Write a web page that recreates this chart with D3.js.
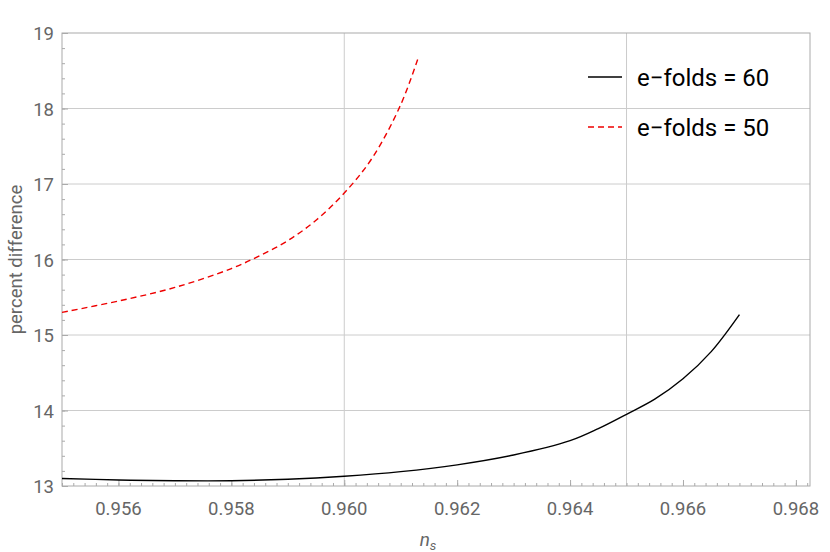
<!DOCTYPE html>
<html><head><meta charset="utf-8">
<script src="https://cdn.jsdelivr.net/npm/d3@7"></script>
<style>body{margin:0;background:#fff}</style>
</head><body>
<svg id="chart" width="830" height="552"></svg>
<script>
// curve samples
var ns60 = [0.955, 0.956, 0.957, 0.958, 0.959, 0.960, 0.961, 0.962, 0.963, 0.964, 0.9645, 0.965, 0.9655, 0.966, 0.9665, 0.967]
var pd60 = [13.10, 13.08, 13.07, 13.07, 13.09, 13.13, 13.19, 13.28, 13.41, 13.60, 13.76, 13.95, 14.15, 14.42, 14.78, 15.27]
var ns50 = [0.955, 0.956, 0.957, 0.958, 0.9585, 0.959, 0.9595, 0.960, 0.9605, 0.961, 0.9613]
var pd50 = [15.30, 15.45, 15.63, 15.88, 16.05, 16.25, 16.52, 16.88, 17.35, 18.05, 18.65]
var xTicks = [0.956, 0.958, 0.960, 0.962, 0.964, 0.966, 0.968]
var yTicks = [13, 14, 15, 16, 17, 18, 19]
var gridX = [0.960, 0.965]
var labels = ["e\u2212folds = 60", "e\u2212folds = 50"]

var m = {left: 62, right: 810, top: 33, bottom: 486}
var svg = d3.select("#chart")
var x = d3.scaleLinear().domain([0.955, 0.96825]).range([m.left, m.right])
var y = d3.scaleLinear().domain([13, 19]).range([m.bottom, m.top])
var gray = "#666"

// grid
svg.selectAll(".gx").data(gridX).enter().append("line")
    .attr("x1", d => x(d)).attr("x2", d => x(d)).attr("y1", m.top).attr("y2", m.bottom)
    .attr("stroke", "#ccc").attr("stroke-width", 1)
svg.selectAll(".gy").data(yTicks.slice(1, -1)).enter().append("line")
    .attr("y1", d => y(d)).attr("y2", d => y(d)).attr("x1", m.left).attr("x2", m.right)
    .attr("stroke", "#ccc").attr("stroke-width", 1)

// frame
svg.append("rect").attr("x", m.left).attr("y", m.top)
    .attr("width", m.right - m.left).attr("height", m.bottom - m.top)
    .attr("fill", "none").attr("stroke", "#aaa")

// axes with minor ticks
var xMinor = d3.range(0, 67).map(i => 0.955 + i * 0.0002).filter(d => d <= 0.96825)
svg.append("g").attr("transform", `translate(0,${m.bottom})`)
    .call(d3.axisTop(x).tickValues(xMinor).tickSize(3).tickFormat(""))
    .call(g => g.select(".domain").remove()).selectAll("line").attr("stroke", "#aaa")
svg.append("g").attr("transform", `translate(0,${m.bottom})`)
    .call(d3.axisTop(x).tickValues(xTicks).tickSize(6).tickFormat(""))
    .call(g => g.select(".domain").remove()).selectAll("line").attr("stroke", "#aaa")
svg.selectAll(".xt").data(xTicks).enter().append("text")
    .attr("x", d => x(d)).attr("y", m.bottom + 29).attr("text-anchor", "middle")
    .attr("font-family", "Roboto, sans-serif").attr("font-size", 18.5).attr("fill", gray)
    .text(d => d.toFixed(3))

var yMinor = d3.range(0, 31).map(i => 13 + i * 0.2)
svg.append("g").attr("transform", `translate(${m.left},0)`)
    .call(d3.axisRight(y).tickValues(yMinor).tickSize(3).tickFormat(""))
    .call(g => g.select(".domain").remove()).selectAll("line").attr("stroke", "#aaa")
svg.append("g").attr("transform", `translate(${m.left},0)`)
    .call(d3.axisRight(y).tickValues(yTicks).tickSize(6).tickFormat(""))
    .call(g => g.select(".domain").remove()).selectAll("line").attr("stroke", "#aaa")
svg.selectAll(".yt").data(yTicks).enter().append("text")
    .attr("x", m.left - 8).attr("y", d => y(d) + 7).attr("text-anchor", "end")
    .attr("font-family", "Roboto, sans-serif").attr("font-size", 18.5).attr("fill", gray)
    .text(d => d)

// axis titles
svg.append("text").attr("transform", `translate(22,${(m.top + m.bottom) / 2}) rotate(-90)`)
    .attr("text-anchor", "middle").attr("font-family", "Roboto, sans-serif")
    .attr("font-size", 18.5).attr("fill", gray).text("percent difference")
var ttl = svg.append("text").attr("x", 428).attr("y", 546).attr("text-anchor", "middle")
    .attr("font-family", "Roboto, sans-serif").attr("font-style", "italic")
    .attr("font-size", 19).attr("fill", gray)
ttl.append("tspan").text("n")
ttl.append("tspan").attr("font-size", 13).attr("dy", 4).text("s")

// curves
var line = d3.line().x(d => x(d[0])).y(d => y(d[1])).curve(d3.curveCatmullRom)
svg.append("path").datum(d3.zip(ns60, pd60)).attr("d", line)
    .attr("fill", "none").attr("stroke", "#000").attr("stroke-width", 1.4)
svg.append("path").datum(d3.zip(ns50, pd50)).attr("d", line)
    .attr("fill", "none").attr("stroke", "#e00").attr("stroke-width", 1.4)
    .attr("stroke-dasharray", "6,4")

// legend
var styles = [{c: "#000", d: null}, {c: "#e00", d: "6,4"}]
labels.forEach(function (t, i) {
    var ly = 77 + i * 50
    svg.append("line").attr("x1", 588).attr("x2", 622).attr("y1", ly).attr("y2", ly)
        .attr("stroke", styles[i].c).attr("stroke-width", 1.4).attr("stroke-dasharray", styles[i].d)
    svg.append("text").attr("x", 637).attr("y", ly + 9)
        .attr("font-family", "Roboto, sans-serif").attr("font-size", 24).attr("fill", "#000")
        .text(t)
})
</script>
</body></html>
